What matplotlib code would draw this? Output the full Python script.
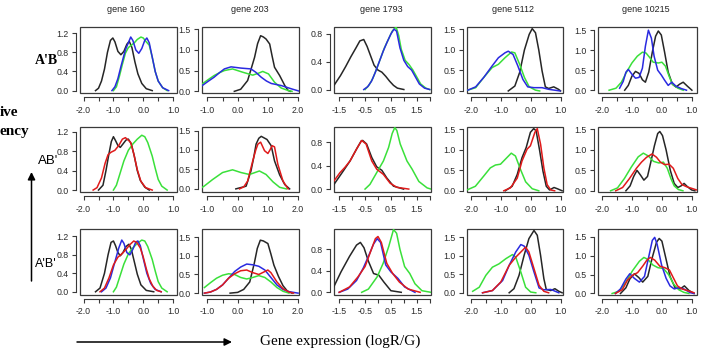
import numpy as np
import matplotlib
matplotlib.use('Agg')
import matplotlib.pyplot as plt
from matplotlib.patches import Rectangle

W, H = 702, 356

genes = ['gene 160', 'gene 203', 'gene 1793', 'gene 5112', 'gene 10215']
rows = ["A'B", "AB'", "A'B'"]

# density curves, (logR/G, relative frequency)
# gene 160
g160_r1_black = [(-1.6, 0.0), (-1.5, 0.05), (-1.4, 0.2), (-1.3, 0.45), (-1.2, 0.8), (-1.1, 1.05), (-1.02, 1.1),
                 (-0.95, 1.02), (-0.85, 0.82), (-0.75, 0.75), (-0.65, 0.82), (-0.55, 0.97), (-0.47, 1.03),
                 (-0.38, 0.9), (-0.28, 0.6), (-0.18, 0.35), (-0.05, 0.15), (0.1, 0.04), (0.3, 0.0)]
g160_r1_blue = [(-1.05, 0.0), (-0.95, 0.08), (-0.85, 0.25), (-0.75, 0.5), (-0.6, 0.85), (-0.5, 1.0), (-0.42, 1.12),
                (-0.35, 1.05), (-0.25, 0.85), (-0.15, 0.78), (-0.05, 0.88), (0.05, 1.05), (0.12, 1.1), (0.2, 1.0),
                (0.3, 0.7), (0.4, 0.4), (0.5, 0.2), (0.65, 0.06), (0.85, 0.0)]
g160_r1_green = [(-1.0, 0.0), (-0.9, 0.08), (-0.8, 0.3), (-0.7, 0.55), (-0.6, 0.78), (-0.5, 0.9), (-0.4, 0.95),
                 (-0.3, 1.0), (-0.2, 1.07), (-0.08, 1.12), (0.0, 1.1), (0.1, 1.02), (0.2, 0.95), (0.3, 0.7),
                 (0.4, 0.4), (0.5, 0.2), (0.65, 0.06), (0.8, 0.0)]
g160_r2_black = [(-1.5, 0.0), (-1.35, 0.1), (-1.25, 0.4), (-1.15, 0.75), (-1.07, 1.0), (-1.0, 1.1), (-0.93, 1.02),
                 (-0.85, 0.92), (-0.77, 0.88), (-0.68, 0.95), (-0.58, 1.03), (-0.5, 1.05), (-0.4, 0.95),
                 (-0.3, 0.7), (-0.2, 0.4), (-0.1, 0.2), (0.05, 0.06), (0.2, 0.0)]
g160_r2_red = [(-1.68, 0.0), (-1.55, 0.05), (-1.4, 0.25), (-1.28, 0.55), (-1.18, 0.73), (-1.08, 0.78),
               (-0.95, 0.82), (-0.82, 0.92), (-0.7, 1.05), (-0.6, 1.08), (-0.5, 1.03), (-0.42, 0.98),
               (-0.32, 0.75), (-0.2, 0.42), (-0.08, 0.18), (0.08, 0.05), (0.3, 0.0)]
g160_r2_green = [(-1.0, 0.0), (-0.9, 0.1), (-0.8, 0.3), (-0.65, 0.6), (-0.5, 0.82), (-0.35, 0.95), (-0.2, 1.05),
                 (-0.05, 1.13), (0.05, 1.1), (0.15, 0.98), (0.3, 0.7), (0.4, 0.45), (0.5, 0.22), (0.62, 0.08),
                 (0.8, 0.0)]
g160_r3_black = [(-1.6, 0.0), (-1.45, 0.08), (-1.3, 0.4), (-1.18, 0.8), (-1.08, 1.07), (-1.0, 1.1), (-0.93, 1.0),
                 (-0.85, 0.85), (-0.77, 0.78), (-0.68, 0.85), (-0.58, 0.98), (-0.48, 1.03), (-0.4, 0.92),
                 (-0.3, 0.65), (-0.2, 0.38), (-0.08, 0.15), (0.1, 0.03), (0.35, 0.0)]
g160_r3_blue = [(-1.4, 0.0), (-1.25, 0.08), (-1.1, 0.3), (-0.95, 0.65), (-0.82, 0.95), (-0.72, 1.12),
                (-0.65, 1.05), (-0.55, 0.85), (-0.45, 0.8), (-0.35, 0.92), (-0.25, 1.08), (-0.18, 1.1),
                (-0.1, 1.0), (0.0, 0.72), (0.12, 0.4), (0.25, 0.18), (0.4, 0.05), (0.6, 0.0)]
g160_r3_red = [(-1.45, 0.0), (-1.3, 0.08), (-1.15, 0.3), (-1.0, 0.58), (-0.85, 0.75), (-0.72, 0.82), (-0.6, 0.9),
               (-0.45, 1.02), (-0.32, 1.1), (-0.22, 1.07), (-0.1, 0.95), (0.0, 0.75), (0.1, 0.5), (0.2, 0.28),
               (0.32, 0.12), (0.45, 0.03), (0.6, 0.0)]
g160_r3_green = [(-1.0, 0.0), (-0.9, 0.1), (-0.8, 0.3), (-0.65, 0.6), (-0.5, 0.82), (-0.35, 0.95), (-0.2, 1.05),
                 (-0.05, 1.12), (0.05, 1.1), (0.15, 0.98), (0.3, 0.7), (0.4, 0.45), (0.5, 0.22), (0.62, 0.08),
                 (0.8, 0.0)]

# gene 203
g203_r1_black = [(-0.11, 0.0), (0.1, 0.05), (0.33, 0.26), (0.45, 0.55), (0.56, 0.82), (0.66, 1.15), (0.76, 1.34),
                 (0.85, 1.31), (0.94, 1.26), (1.06, 1.14), (1.14, 0.85), (1.22, 0.58), (1.39, 0.38), (1.56, 0.14),
                 (1.67, 0.02), (1.75, 0.0)]
g203_r1_blue = [(-1.17, 0.14), (-0.98, 0.24), (-0.78, 0.34), (-0.6, 0.45), (-0.44, 0.54), (-0.22, 0.59),
                (0.11, 0.56), (0.44, 0.54), (0.6, 0.46), (0.78, 0.34), (0.95, 0.25), (1.11, 0.19), (1.44, 0.14),
                (1.78, 0.06), (2.06, 0.0)]
g203_r1_green = [(-1.17, 0.18), (-0.98, 0.28), (-0.78, 0.38), (-0.6, 0.45), (-0.44, 0.5), (-0.17, 0.54),
                 (0.17, 0.46), (0.5, 0.39), (0.7, 0.44), (0.83, 0.48), (1.02, 0.42), (1.12, 0.32), (1.22, 0.22),
                 (1.44, 0.08), (1.67, 0.02), (1.8, 0.0)]
g203_r2_black = [(-0.06, 0.0), (0.28, 0.07), (0.44, 0.46), (0.53, 0.8), (0.61, 1.15), (0.7, 1.3), (0.78, 1.35),
                 (0.97, 1.27), (1.11, 1.11), (1.22, 0.72), (1.39, 0.36), (1.56, 0.11), (1.72, 0.0)]
g203_r2_red = [(0.06, 0.0), (0.2, 0.05), (0.33, 0.2), (0.5, 0.72), (0.6, 1.0), (0.67, 1.15), (0.76, 1.2),
               (0.89, 0.98), (1.0, 0.91), (1.07, 1.0), (1.14, 1.11), (1.22, 1.08), (1.33, 0.63), (1.5, 0.2),
               (1.67, 0.0)]
g203_r2_green = [(-1.19, 0.03), (-1.11, 0.07), (-0.83, 0.24), (-0.5, 0.42), (-0.17, 0.49), (0.11, 0.42),
                 (0.39, 0.37), (0.72, 0.46), (0.94, 0.37), (1.17, 0.18), (1.39, 0.04), (1.61, 0.0)]
g203_r3_black = [(-0.25, 0.0), (0.0, 0.02), (0.2, 0.1), (0.4, 0.3), (0.55, 0.8), (0.65, 1.2), (0.75, 1.42),
                 (0.85, 1.4), (1.0, 1.33), (1.1, 1.05), (1.2, 0.75), (1.35, 0.45), (1.5, 0.2), (1.65, 0.05),
                 (1.8, 0.0)]
g203_r3_blue = [(-1.1, 0.0), (-0.9, 0.03), (-0.7, 0.1), (-0.5, 0.22), (-0.3, 0.4), (-0.1, 0.58), (0.1, 0.7),
                (0.3, 0.78), (0.5, 0.76), (0.7, 0.72), (0.9, 0.62), (1.1, 0.42), (1.3, 0.22), (1.5, 0.1),
                (1.7, 0.04), (2.0, 0.0)]
g203_r3_red = [(-1.1, 0.0), (-0.9, 0.03), (-0.7, 0.1), (-0.5, 0.22), (-0.3, 0.4), (-0.1, 0.52), (0.1, 0.6),
               (0.3, 0.62), (0.5, 0.55), (0.7, 0.5), (0.9, 0.58), (1.0, 0.62), (1.1, 0.55), (1.3, 0.3),
               (1.5, 0.12), (1.7, 0.03), (1.85, 0.0)]
g203_r3_green = [(-1.1, 0.15), (-0.9, 0.28), (-0.7, 0.4), (-0.5, 0.48), (-0.3, 0.52), (-0.1, 0.5), (0.1, 0.42),
                 (0.3, 0.38), (0.5, 0.42), (0.7, 0.47), (0.9, 0.42), (1.1, 0.3), (1.3, 0.15), (1.5, 0.05),
                 (1.7, 0.0)]

# gene 1793
g1793_r1_black = [(-1.7, 0.06), (-1.45, 0.2), (-1.25, 0.33), (-1.05, 0.47), (-0.85, 0.6), (-0.7, 0.7),
                  (-0.55, 0.72), (-0.42, 0.62), (-0.3, 0.5), (-0.15, 0.35), (0.0, 0.28), (0.15, 0.25),
                  (0.3, 0.19), (0.45, 0.12), (0.6, 0.06), (0.75, 0.02), (1.0, 0.0)]
g1793_r1_blue = [(-0.55, 0.0), (-0.4, 0.04), (-0.25, 0.12), (-0.1, 0.25), (0.05, 0.4), (0.2, 0.55), (0.35, 0.68),
                 (0.5, 0.8), (0.62, 0.87), (0.72, 0.84), (0.85, 0.6), (1.0, 0.42), (1.15, 0.33), (1.3, 0.28),
                 (1.45, 0.18), (1.6, 0.08), (1.8, 0.02), (2.0, 0.0)]
g1793_r1_green = [(-0.5, 0.0), (-0.35, 0.06), (-0.2, 0.16), (-0.05, 0.3), (0.1, 0.45), (0.25, 0.6), (0.4, 0.72),
                  (0.55, 0.84), (0.7, 0.9), (0.8, 0.78), (0.9, 0.58), (1.05, 0.42), (1.2, 0.36), (1.35, 0.28),
                  (1.5, 0.18), (1.65, 0.08), (1.85, 0.02), (2.0, 0.0)]
g1793_r2_black = [(-1.7, 0.08), (-1.34, 0.31), (-1.08, 0.48), (-0.82, 0.69), (-0.65, 0.82), (-0.59, 0.83),
                  (-0.44, 0.77), (-0.24, 0.54), (-0.05, 0.38), (0.15, 0.32), (0.34, 0.19), (0.6, 0.05),
                  (0.99, 0.0)]
g1793_r2_red = [(-1.7, 0.14), (-1.47, 0.28), (-1.28, 0.37), (-1.08, 0.48), (-0.82, 0.69), (-0.63, 0.83),
                (-0.46, 0.77), (-0.24, 0.48), (-0.05, 0.34), (0.21, 0.25), (0.47, 0.1), (0.73, 0.03),
                (1.19, 0.0)]
g1793_r2_green = [(-0.5, 0.0), (-0.31, 0.08), (-0.05, 0.28), (0.21, 0.48), (0.41, 0.71), (0.55, 0.95),
                  (0.65, 1.05), (0.73, 1.0), (0.86, 0.77), (1.12, 0.48), (1.32, 0.34), (1.58, 0.13),
                  (1.9, 0.02), (2.05, 0.0)]
g1793_r3_black = [(-1.75, 0.06), (-1.43, 0.38), (-1.1, 0.67), (-0.83, 0.88), (-0.68, 0.93), (-0.54, 0.83),
                  (-0.37, 0.58), (-0.17, 0.35), (0.03, 0.32), (0.23, 0.19), (0.5, 0.03), (0.9, 0.0)]
g1793_r3_blue = [(-1.5, 0.0), (-1.17, 0.06), (-0.83, 0.22), (-0.57, 0.45), (-0.37, 0.67), (-0.17, 0.9),
                 (-0.03, 1.0), (0.1, 0.93), (0.3, 0.51), (0.5, 0.38), (0.77, 0.26), (1.03, 0.1), (1.43, 0.0)]
g1793_r3_red = [(-1.5, 0.0), (-1.1, 0.1), (-0.77, 0.29), (-0.5, 0.48), (-0.3, 0.74), (-0.1, 1.0), (0.0, 1.04),
                (0.13, 0.93), (0.34, 0.54), (0.57, 0.35), (0.83, 0.19), (1.17, 0.06), (1.63, 0.0)]
g1793_r3_green = [(-0.63, 0.0), (-0.37, 0.06), (-0.03, 0.29), (0.2, 0.54), (0.42, 0.86), (0.6, 1.17),
                  (0.72, 1.1), (0.85, 0.8), (1.03, 0.48), (1.23, 0.35), (1.43, 0.16), (1.7, 0.03), (2.05, 0.0)]

# gene 5112
g5112_r1_black = [(-0.75, 0.0), (-0.53, 0.12), (-0.37, 0.45), (-0.21, 1.0), (-0.05, 1.38), (0.05, 1.52),
                  (0.16, 1.42), (0.27, 1.0), (0.38, 0.49), (0.49, 0.1), (0.6, 0.06), (0.77, 0.1), (0.93, 0.04),
                  (1.0, 0.0)]
g5112_r1_blue = [(-2.1, 0.02), (-1.84, 0.1), (-1.57, 0.33), (-1.29, 0.61), (-1.08, 0.81), (-0.86, 0.93),
                 (-0.75, 0.97), (-0.59, 0.89), (-0.43, 0.61), (-0.26, 0.28), (-0.1, 0.1), (0.11, 0.08),
                 (0.38, 0.08), (0.6, 0.04), (0.98, 0.0)]
g5112_r1_green = [(-2.1, 0.02), (-1.84, 0.08), (-1.57, 0.33), (-1.29, 0.57), (-1.08, 0.65), (-0.86, 0.81),
                  (-0.64, 0.95), (-0.53, 0.93), (-0.37, 0.65), (-0.21, 0.33), (-0.05, 0.1), (0.16, 0.02),
                  (0.3, 0.0)]
g5112_r2_black = [(-0.85, 0.0), (-0.62, 0.11), (-0.45, 0.4), (-0.29, 0.81), (-0.15, 1.06), (-0.01, 1.43),
                  (0.1, 1.52), (0.18, 1.47), (0.3, 0.98), (0.41, 0.48), (0.52, 0.11), (0.63, 0.02),
                  (0.78, 0.08), (0.89, 0.05), (1.05, 0.0)]
g5112_r2_red = [(-0.9, 0.0), (-0.68, 0.07), (-0.45, 0.31), (-0.29, 0.73), (-0.12, 1.02), (-0.01, 1.1),
                (0.14, 1.43), (0.22, 1.52), (0.33, 1.14), (0.44, 0.56), (0.55, 0.15), (0.67, 0.02), (0.8, 0.0)]
g5112_r2_green = [(-2.13, 0.02), (-1.85, 0.11), (-1.57, 0.36), (-1.35, 0.56), (-1.18, 0.63), (-1.01, 0.65),
                  (-0.85, 0.77), (-0.65, 0.92), (-0.51, 0.85), (-0.34, 0.52), (-0.17, 0.22), (0.05, 0.05),
                  (0.27, 0.0)]
g5112_r3_black = [(-0.72, 0.0), (-0.56, 0.11), (-0.39, 0.47), (-0.22, 1.01), (-0.06, 1.46), (0.11, 1.68),
                  (0.22, 1.55), (0.33, 1.01), (0.44, 0.38), (0.52, 0.09), (0.67, 0.06), (0.81, 0.11),
                  (0.94, 0.04), (1.05, 0.0)]
g5112_r3_blue = [(-1.61, 0.0), (-1.28, 0.06), (-0.94, 0.33), (-0.72, 0.74), (-0.5, 1.1), (-0.33, 1.3),
                 (-0.22, 1.26), (-0.06, 1.01), (0.11, 0.56), (0.28, 0.13), (0.44, 0.08), (0.67, 0.09),
                 (0.94, 0.0)]
g5112_r3_red = [(-1.61, 0.0), (-1.28, 0.06), (-1.0, 0.29), (-0.72, 0.74), (-0.5, 0.96), (-0.28, 1.14),
                (-0.17, 1.23), (-0.06, 1.1), (0.11, 0.65), (0.28, 0.2), (0.44, 0.04), (0.6, 0.0)]
g5112_r3_green = [(-1.94, 0.04), (-1.72, 0.15), (-1.5, 0.47), (-1.28, 0.69), (-1.06, 0.78), (-0.83, 0.92),
                  (-0.61, 1.03), (-0.5, 0.96), (-0.33, 0.56), (-0.17, 0.15), (0.0, 0.02), (0.17, 0.0)]

# gene 10215
g10215_r1_black = [(-1.24, 0.0), (-1.12, 0.12), (-1.0, 0.35), (-0.88, 0.47), (-0.76, 0.42), (-0.65, 0.26),
                   (-0.55, 0.2), (-0.44, 0.45), (-0.32, 0.95), (-0.21, 1.35), (-0.12, 1.48), (-0.02, 1.38),
                   (0.09, 0.95), (0.21, 0.45), (0.35, 0.15), (0.47, 0.08), (0.59, 0.15), (0.71, 0.2),
                   (0.85, 0.1), (1.0, 0.0)]
g10215_r1_blue = [(-1.41, 0.05), (-1.29, 0.22), (-1.2, 0.45), (-1.12, 0.52), (-1.0, 0.4), (-0.88, 0.3),
                  (-0.76, 0.32), (-0.65, 0.55), (-0.55, 1.1), (-0.45, 1.5), (-0.35, 1.3), (-0.26, 0.85),
                  (-0.14, 0.5), (-0.02, 0.38), (0.09, 0.25), (0.21, 0.12), (0.33, 0.2), (0.47, 0.1),
                  (0.65, 0.04), (0.82, 0.0)]
g10215_r1_green = [(-1.76, 0.0), (-1.53, 0.05), (-1.35, 0.2), (-1.18, 0.45), (-1.0, 0.68), (-0.82, 0.85),
                   (-0.65, 0.95), (-0.53, 0.93), (-0.41, 0.82), (-0.29, 0.7), (-0.12, 0.68), (0.0, 0.7),
                   (0.12, 0.6), (0.24, 0.35), (0.35, 0.15), (0.53, 0.05), (0.71, 0.0)]
g10215_r2_black = [(-1.2, 0.0), (-1.06, 0.12), (-0.94, 0.35), (-0.83, 0.5), (-0.71, 0.38), (-0.6, 0.26),
                   (-0.48, 0.35), (-0.37, 0.7), (-0.25, 1.1), (-0.14, 1.4), (-0.07, 1.45), (0.02, 1.35),
                   (0.14, 1.0), (0.28, 0.5), (0.41, 0.18), (0.53, 0.08), (0.64, 0.12), (0.74, 0.18),
                   (0.85, 0.1), (0.99, 0.02), (1.1, 0.0)]
g10215_r2_red = [(-1.54, 0.0), (-1.31, 0.08), (-1.08, 0.3), (-0.85, 0.55), (-0.68, 0.7), (-0.51, 0.82),
                 (-0.33, 0.9), (-0.18, 0.82), (-0.05, 0.7), (0.09, 0.64), (0.24, 0.65), (0.38, 0.55),
                 (0.53, 0.3), (0.67, 0.15), (0.82, 0.1), (0.99, 0.06), (1.16, 0.02)]
g10215_r2_green = [(-1.71, 0.0), (-1.48, 0.07), (-1.25, 0.3), (-1.02, 0.58), (-0.79, 0.83), (-0.62, 0.92),
                   (-0.45, 0.85), (-0.28, 0.72), (-0.1, 0.68), (0.05, 0.7), (0.18, 0.55), (0.3, 0.3),
                   (0.41, 0.12), (0.55, 0.03), (0.7, 0.0)]
g10215_r3_black = [(-1.38, 0.0), (-1.2, 0.15), (-1.07, 0.38), (-0.92, 0.52), (-0.77, 0.42), (-0.64, 0.3),
                   (-0.47, 0.45), (-0.32, 0.95), (-0.18, 1.35), (-0.09, 1.45), (0.0, 1.38), (0.14, 0.9),
                   (0.27, 0.45), (0.44, 0.15), (0.61, 0.12), (0.75, 0.2), (0.9, 0.08), (1.07, 0.0)]
g10215_r3_blue = [(-1.55, 0.0), (-1.38, 0.12), (-1.2, 0.38), (-1.07, 0.52), (-0.92, 0.4), (-0.75, 0.3),
                  (-0.58, 0.45), (-0.43, 1.0), (-0.32, 1.4), (-0.24, 1.48), (-0.16, 1.3), (-0.01, 0.75),
                  (0.14, 0.4), (0.27, 0.2), (0.41, 0.12), (0.56, 0.15), (0.73, 0.12), (0.95, 0.02),
                  (1.07, 0.0)]
g10215_r3_red = [(-1.55, 0.0), (-1.32, 0.1), (-1.15, 0.35), (-0.98, 0.48), (-0.81, 0.55), (-0.64, 0.72),
                 (-0.5, 0.88), (-0.39, 0.95), (-0.24, 0.88), (-0.07, 0.72), (0.1, 0.68), (0.25, 0.62),
                 (0.39, 0.4), (0.52, 0.2), (0.67, 0.12), (0.84, 0.08), (1.07, 0.02)]
g10215_r3_green = [(-1.66, 0.0), (-1.43, 0.06), (-1.2, 0.3), (-0.98, 0.6), (-0.75, 0.85), (-0.6, 0.95),
                   (-0.47, 0.9), (-0.3, 0.75), (-0.13, 0.68), (0.05, 0.66), (0.22, 0.5), (0.39, 0.25),
                   (0.56, 0.1), (0.73, 0.03), (0.9, 0.0)]

# axis ranges
col_xlim = [(-2.12, 1.13), (-1.18, 2.03), (-1.7, 2.05), (-2.13, 1.08), (-2.13, 1.17)]
col_xticks = [(-2.0, 1.0), (-1.0, 2.0), (-1.5, 2.0), (-2.0, 1.0), (-2.0, 1.0)]
col_ystep = [0.4, 0.5, 0.4, 0.5, 0.5]
panel_ylim = [[(-0.05, 1.33), (-0.04, 1.55), (-0.05, 0.9), (-0.05, 1.56), (-0.07, 1.58)],
              [(-0.04, 1.3), (-0.08, 1.59), (-0.05, 1.06), (-0.03, 1.56), (-0.03, 1.56)],
              [(-0.07, 1.36), (-0.05, 1.72), (-0.05, 1.18), (-0.06, 1.72), (-0.04, 1.7)]]

colors = {'black': '#262626', 'blue': '#2a2ae0', 'red': '#e01a1a', 'green': '#3ae03a'}

panels = [
    [[('black', g160_r1_black), ('green', g160_r1_green), ('blue', g160_r1_blue)],
     [('black', g203_r1_black), ('green', g203_r1_green), ('blue', g203_r1_blue)],
     [('black', g1793_r1_black), ('green', g1793_r1_green), ('blue', g1793_r1_blue)],
     [('black', g5112_r1_black), ('green', g5112_r1_green), ('blue', g5112_r1_blue)],
     [('black', g10215_r1_black), ('green', g10215_r1_green), ('blue', g10215_r1_blue)]],
    [[('black', g160_r2_black), ('green', g160_r2_green), ('red', g160_r2_red)],
     [('black', g203_r2_black), ('green', g203_r2_green), ('red', g203_r2_red)],
     [('black', g1793_r2_black), ('green', g1793_r2_green), ('red', g1793_r2_red)],
     [('black', g5112_r2_black), ('green', g5112_r2_green), ('red', g5112_r2_red)],
     [('black', g10215_r2_black), ('green', g10215_r2_green), ('red', g10215_r2_red)]],
    [[('black', g160_r3_black), ('green', g160_r3_green), ('blue', g160_r3_blue), ('red', g160_r3_red)],
     [('black', g203_r3_black), ('green', g203_r3_green), ('blue', g203_r3_blue), ('red', g203_r3_red)],
     [('black', g1793_r3_black), ('green', g1793_r3_green), ('blue', g1793_r3_blue), ('red', g1793_r3_red)],
     [('black', g5112_r3_black), ('green', g5112_r3_green), ('blue', g5112_r3_blue), ('red', g5112_r3_red)],
     [('black', g10215_r3_black), ('green', g10215_r3_green), ('blue', g10215_r3_blue),
      ('red', g10215_r3_red)]],
]

# pixel boxes of the panels
col_px = [(80, 177), (202, 299), (334, 431), (467, 563), (598, 697)]
row_px = [(27, 93), (127, 192), (229, 295)]
title_x = [126, 250, 381, 513, 646]

SANS = 'Liberation Sans'
SERIF = 'Liberation Serif'
AXC = '#3a3a3a'

fig = plt.figure(figsize=(W / 100, H / 100), dpi=100)


def fx(x):
    return x / W


def fy(y):
    return 1 - y / H


for r in range(3):
    for c in range(5):
        (x0, x1), (y0, y1) = col_px[c], row_px[r]
        ax = fig.add_axes([fx(x0), fy(y1), (x1 - x0) / W, (y1 - y0) / H])
        for name, pts in panels[r][c]:
            xy = np.array(pts)
            ax.plot(xy[:, 0], xy[:, 1], color=colors[name], lw=1.1, solid_joinstyle='round')
        ax.set_xlim(*col_xlim[c])
        ax.set_ylim(*panel_ylim[r][c])

        xt = np.arange(col_xticks[c][0], col_xticks[c][1] + 0.01, 0.5)
        ax.set_xticks(xt)
        ax.set_xticklabels(['%.1f' % v if i % 2 == 0 else '' for i, v in enumerate(xt)])
        yt = np.arange(0, panel_ylim[r][c][1] + 1e-6, col_ystep[c])
        ax.set_yticks(yt)
        ax.set_yticklabels(['%.1f' % v for v in yt], rotation=90, va='center')

        for side in ['top', 'right']:
            ax.spines[side].set_visible(False)
        for side in ['left', 'bottom']:
            ax.spines[side].set_position(('outward', 3))
            ax.spines[side].set_color(AXC)
            ax.spines[side].set_linewidth(0.8)
        ax.spines['bottom'].set_bounds(xt[0], xt[-1])
        ax.spines['left'].set_bounds(yt[0], yt[-1])
        ax.tick_params(length=3, width=0.8, color=AXC, labelsize=6.3, labelcolor='#2a2a2a', pad=2)
        ax.tick_params(axis='x', pad=3)
        for lab in ax.get_xticklabels() + ax.get_yticklabels():
            lab.set_family(SANS)
        ax.add_patch(Rectangle((0, 0), 1, 1, transform=ax.transAxes, fill=False, lw=0.9, ec=AXC,
                               clip_on=False))

for c in range(5):
    fig.text(fx(title_x[c]), fy(10), genes[c], ha='center', va='center', fontsize=6.5, family=SANS,
             color='#222222')

fig.text(fx(58), fy(60), rows[0], ha='right', va='center', fontsize=10, family=SERIF, weight='bold')
fig.text(fx(58), fy(161), rows[1], ha='right', va='center', fontsize=9.5, family=SANS)
fig.text(fx(57), fy(264), rows[2], ha='right', va='center', fontsize=9, family=SANS)

# the y label of the original only shows the ends of its two words
fig.text(fx(0), fy(112), 'ive', ha='left', va='center', fontsize=11, family=SERIF, weight='bold')
fig.text(fx(0), fy(132), 'ency', ha='left', va='center', fontsize=11, family=SERIF, weight='bold')
fig.text(fx(340), fy(341), 'Gene expression (logR/G)', ha='center', va='center', fontsize=11, family=SERIF)

arrow = dict(arrowstyle='-|>', lw=1.1, color='black', mutation_scale=11, shrinkA=0, shrinkB=0)
fig.add_artist(plt.Annotation('', xy=(fx(232), fy(342)), xytext=(fx(77), fy(342)),
                              xycoords='figure fraction', arrowprops=arrow))
fig.add_artist(plt.Annotation('', xy=(fx(31.5), fy(172)), xytext=(fx(31.5), fy(281)),
                              xycoords='figure fraction', arrowprops=arrow))

fig.savefig('out.png', dpi=100)
